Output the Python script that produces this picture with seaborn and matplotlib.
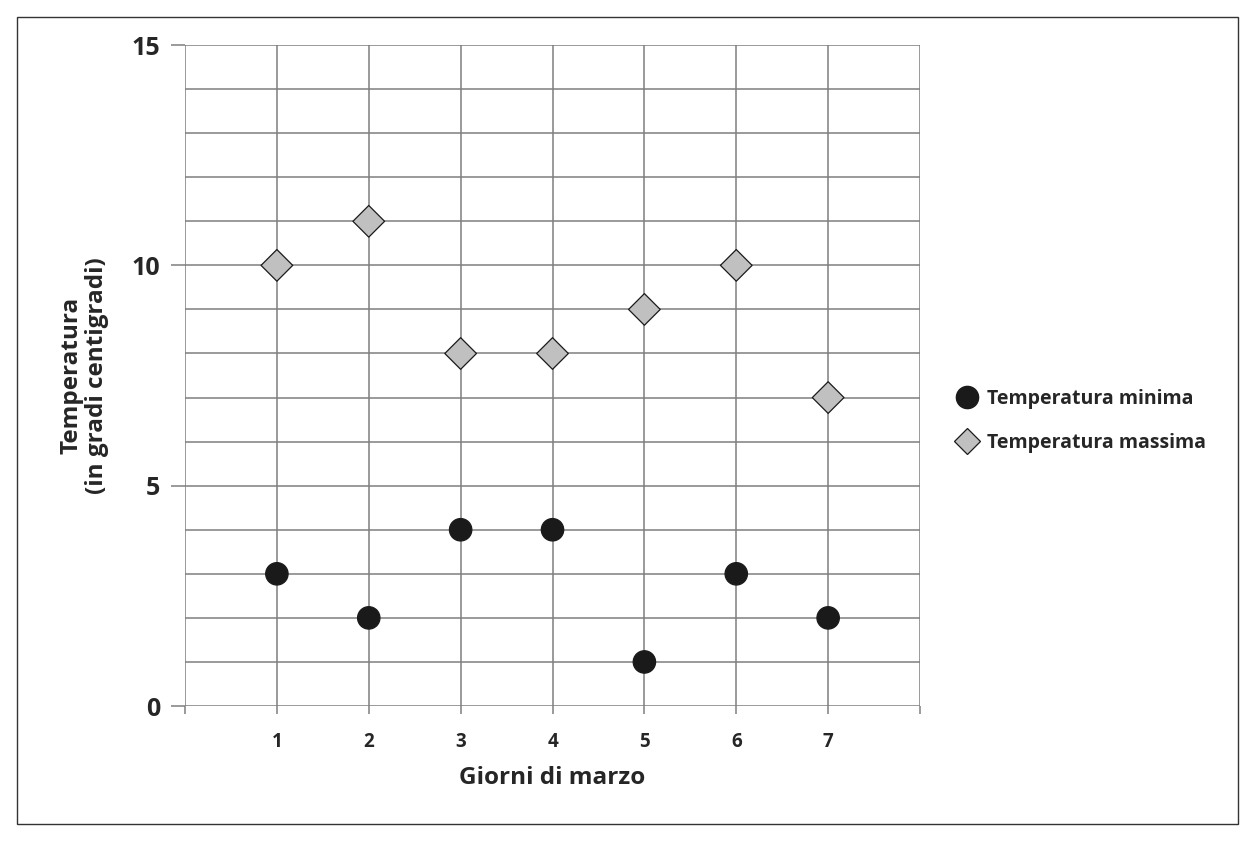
import numpy as np
import pandas as pd
import matplotlib
matplotlib.use("Agg")
import matplotlib.pyplot as plt
import seaborn as sns
from matplotlib.patches import Rectangle

giorni = [1, 2, 3, 4, 5, 6, 7]
t_minima = [3, 2, 4, 4, 1, 3, 2]
t_massima = [10, 11, 8, 8, 9, 10, 7]
serie = ["Temperatura minima", "Temperatura massima"]

df = pd.DataFrame({
    "giorno": giorni * 2,
    "temp": t_minima + t_massima,
    "serie": [serie[0]] * 7 + [serie[1]] * 7,
})

sns.set_style("white")
plt.rcParams["font.family"] = ["Open Sans", "DejaVu Sans"]
plt.rcParams["font.weight"] = "bold"

fig = plt.figure(figsize=(12.56, 8.5), dpi=100)
ax = fig.add_axes([0.1473, 0.1694, 0.5852, 0.7776])

grid_col = "#7f7f7f"
ax.set_xlim(0, 8)
ax.set_ylim(0, 15)
for v in range(0, 9):
    ax.axvline(v, color=grid_col, lw=1.1, zorder=0)
for h in range(0, 16):
    ax.axhline(h, color=grid_col, lw=1.1, zorder=0)

sns.scatterplot(data=df, x="giorno", y="temp", hue="serie", style="serie",
                palette={serie[0]: "#1a1a1a", serie[1]: "#c0c0c0"},
                markers={serie[0]: "o", serie[1]: "D"},
                s=260, edgecolor="#1a1a1a", linewidth=0.9, ax=ax, zorder=3,
                legend=False)
for sp in ax.spines.values():
    sp.set_visible(False)

ax.set_xticks(range(0, 9))
ax.set_xticklabels([""] + [str(g) for g in giorni] + [""], fontsize=13.5, fontweight="bold")
ax.set_yticks([0, 5, 10, 15])
ax.set_yticklabels(["0", "5", "10", "15"], fontsize=18, fontweight="bold")
ax.tick_params(axis="x", bottom=True, length=6, color=grid_col, width=1.1, pad=13)
ax.tick_params(axis="y", left=True, length=10, color=grid_col, width=1.1, pad=8)

ax.set_xlabel("Giorni di marzo", fontsize=17.5, fontweight="bold", labelpad=10)
ax.set_ylabel("Temperatura\n(in gradi centigradi)", fontsize=17.5, fontweight="bold",
              labelpad=16, linespacing=1.1)

handles = [
    plt.Line2D([], [], ls="", marker="o", ms=16, mfc="#1a1a1a", mec="#1a1a1a"),
    plt.Line2D([], [], ls="", marker="D", ms=13, mfc="#c0c0c0", mec="#1a1a1a", mew=0.9),
]
fig.legend(handles, serie, loc="center left", bbox_to_anchor=(0.744, 0.505),
           frameon=False, prop={"weight": "bold", "size": 14},
           handletextpad=0.3, labelspacing=1.25, handlelength=1.5)

fig.patches.append(Rectangle((0.0135, 0.0306), 0.972, 0.949, transform=fig.transFigure,
                             fill=False, edgecolor="#333333", lw=1.0))

fig.savefig("out.png", dpi=100)
